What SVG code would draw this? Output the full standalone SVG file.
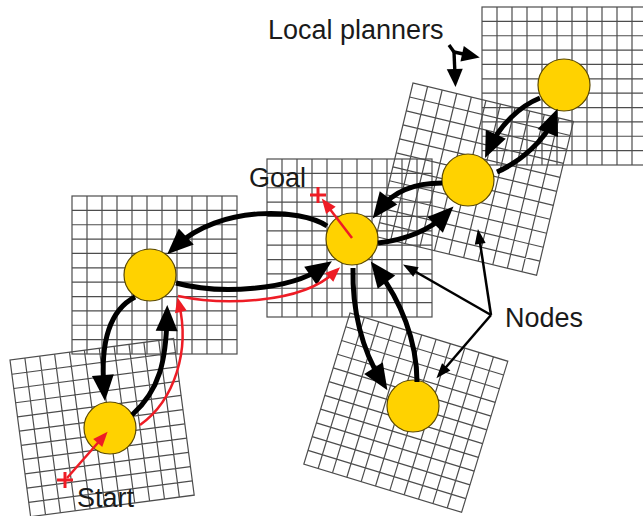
<svg xmlns="http://www.w3.org/2000/svg" width="643" height="516" viewBox="0 0 643 516">
<style>
.grid{fill:none;stroke:#4d4d4d;stroke-width:1.2}
.node{fill:#FFD200;stroke:#5a4800;stroke-width:1.2}
.thick{fill:none;stroke:#000;stroke-width:5}
.thin{fill:none;stroke:#000;stroke-width:2.5}
.lp{fill:none;stroke:#000;stroke-width:3.4}
.red{fill:none;stroke:#ee1c25;stroke-width:2.5}
.plus{fill:none;stroke:#ee1c25;stroke-width:3}
.lbl{font-family:"Liberation Sans",Arial,sans-serif;font-size:27px;fill:#1a1a1a}
</style>
<defs>
<g id="grid" class="grid">
<rect x="0" y="0" width="165" height="158"/>
<path d="M15,0V158M30,0V158M45,0V158M60,0V158M75,0V158M90,0V158M105,0V158M120,0V158M135,0V158M150,0V158M0,14.36H165M0,28.73H165M0,43.09H165M0,57.45H165M0,71.82H165M0,86.18H165M0,100.55H165M0,114.91H165M0,129.27H165M0,143.64H165"/>
</g>
<marker id="ahB" markerUnits="userSpaceOnUse" markerWidth="28" markerHeight="24" refX="14" refY="11" orient="auto" overflow="visible">
<path d="M0,0 L26,11 L0,22 Z" fill="#000"/>
</marker>
<marker id="ahT" markerUnits="userSpaceOnUse" markerWidth="16" markerHeight="12" refX="8" refY="5.5" orient="auto" overflow="visible">
<path d="M0,0 L15,5.5 L0,11 Z" fill="#000"/>
</marker>
<marker id="ahL" markerUnits="userSpaceOnUse" markerWidth="20" markerHeight="18" refX="6" refY="8" orient="auto" overflow="visible">
<path d="M0,0 L18,8 L0,16 Z" fill="#000"/>
</marker>
<marker id="ahR" markerUnits="userSpaceOnUse" markerWidth="16" markerHeight="13" refX="8" refY="6" orient="auto" overflow="visible">
<path d="M0,0 L15,6 L0,12 Z" fill="#ee1c25"/>
</marker>
</defs>
<g id="grids">
<use href="#grid" transform="translate(72,196)"/>
<use href="#grid" transform="translate(267,159)"/>
<use href="#grid" transform="translate(482,7)"/>
<use href="#grid" transform="translate(10,360) rotate(-7.5)"/>
<use href="#grid" transform="translate(413,83) rotate(13.5)"/>
<use href="#grid" transform="translate(350,313) rotate(17)"/>
</g>
<g id="labels">
<text class="lbl" x="268" y="39">Local planners</text>
<text class="lbl" x="249" y="187">Goal</text>
<text class="lbl" x="505" y="327">Nodes</text>
<text class="lbl" x="77" y="507">Start</text>
</g>
<g id="node-a"><circle class="node" cx="150" cy="275" r="26"/></g>
<g id="node-start"><circle class="node" cx="110" cy="428" r="26"/></g>
<g id="node-goal"><circle class="node" cx="352" cy="239" r="26"/></g>
<g id="node-d"><circle class="node" cx="468" cy="180" r="26"/></g>
<g id="node-e"><circle class="node" cx="564" cy="85" r="26"/></g>
<g id="node-f"><circle class="node" cx="413" cy="406" r="26"/></g>
<g id="connectors">
<path class="thick" marker-end="url(#ahB)" d="M327,226 C300,208 220,205 176,246"/>
<path class="thick" marker-end="url(#ahB)" d="M176,283 C220,295 290,290 322,268"/>
<path class="thick" marker-end="url(#ahB)" d="M135,297 C110,310 100,340 104,389"/>
<path class="thick" marker-end="url(#ahB)" d="M132,415 C160,390 166,360 167,317"/>
<path class="thick" marker-end="url(#ahB)" d="M442,183 C415,183 393,192 380,209"/>
<path class="thick" marker-end="url(#ahB)" d="M378,243 C405,240 430,230 445,215"/>
<path class="thick" marker-end="url(#ahB)" d="M540,98 C520,106 500,125 490,147"/>
<path class="thick" marker-end="url(#ahB)" d="M497,172 C520,162 545,140 553,120"/>
<path class="thick" marker-end="url(#ahB)" d="M353,268 C352,310 362,350 381,380"/>
<path class="thick" marker-end="url(#ahB)" d="M417,382 C417,340 400,300 378,271"/>
<path class="red" marker-end="url(#ahR)" d="M140,425 C175,400 190,350 179,304"/>
<path class="red" marker-end="url(#ahR)" d="M178,296 C220,305 300,305 335,272"/>
<path class="red" marker-end="url(#ahR)" d="M67,478 L103,437"/>
<path class="red" marker-end="url(#ahR)" d="M352,238 L326,204"/>
<path class="plus" d="M57,480H73M65,472V488"/>
<path class="plus" d="M310,195H326M318,187V203"/>
<path class="thin" marker-end="url(#ahT)" d="M491,315 L479,236"/>
<path class="thin" marker-end="url(#ahT)" d="M491,315 L409,268"/>
<path class="thin" marker-end="url(#ahT)" d="M491,315 L441,373"/>
<path class="lp" d="M449,45 L454,52"/>
<path class="lp" marker-end="url(#ahL)" d="M454,52 L468,55"/>
<path class="lp" marker-end="url(#ahL)" d="M454,52 L455,75"/>
</g>
</svg>
